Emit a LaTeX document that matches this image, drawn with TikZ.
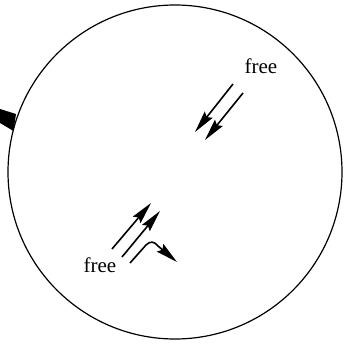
\documentclass[tikz,border=0pt]{standalone}
\usepackage{fontspec}
\setmainfont{Liberation Serif}
\usetikzlibrary{arrows.meta}
\begin{document}
\begin{tikzpicture}[x=1pt,y=-1pt,
  flow/.style={line width=1.6pt,-{Stealth[length=22pt,width=10pt,inset=3pt]}},
  lbl/.style={font=\fontsize{21}{25}\selectfont}]
\useasboundingbox (0,0) rectangle (349,345);
% the bead and its tether
\draw[line width=1.2pt] (175,172) circle (167);
\fill (0,109) -- (16,114) -- (13.5,131) -- (0,123) -- cycle;
% upper pair
\node[lbl] (freeA) at (261,66) {free};
\draw[flow] (233,84) -- (195,132);
\draw[flow] (243,93) -- (205,140);
% lower pair and the bent one
\node[lbl] (freeB) at (100,265) {free};
\draw[flow] (112,249) -- (151,203);
\draw[flow] (122,257) -- (160,211);
\draw[flow] (130,263) -- (146,245) .. controls (150,241) and (154,241) .. (158,246) -- (177,262);
\end{tikzpicture}
\end{document}
